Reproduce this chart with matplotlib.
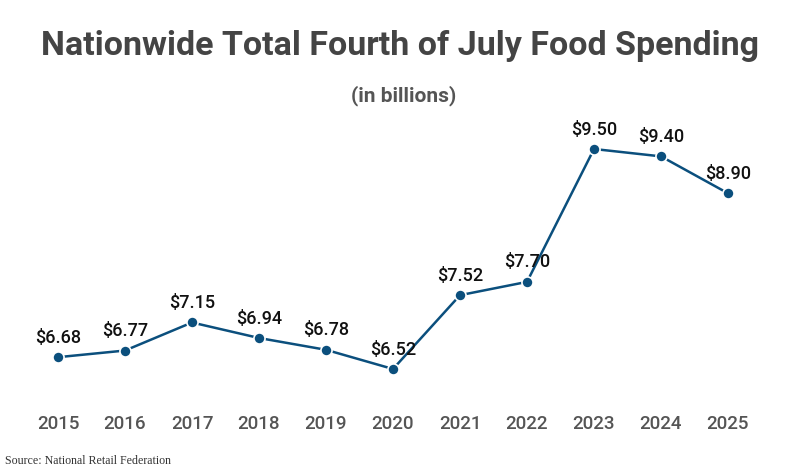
import matplotlib
matplotlib.use("Agg")
import matplotlib.pyplot as plt

years = [2015, 2016, 2017, 2018, 2019, 2020, 2021, 2022, 2023, 2024, 2025]
spending = [6.68, 6.77, 7.15, 6.94, 6.78, 6.52, 7.52, 7.70, 9.50, 9.40, 8.90]
value_labels = ["$6.68", "$6.77", "$7.15", "$6.94", "$6.78", "$6.52",
                "$7.52", "$7.70", "$9.50", "$9.40", "$8.90"]
title = "Nationwide Total Fourth of July Food Spending"
subtitle = "(in billions)"
source = "Source: National Retail Federation"

W, H = 800, 473
fig = plt.figure(figsize=(W / 100, H / 100), dpi=100)
# axes spanning pixel y 120..395
ax = fig.add_axes([0, (H - 395) / H, 1, (395 - 120) / H])
line_color = "#0b4f7d"
ax.plot(years, spending, color=line_color, lw=1.8, marker="o", ms=8,
        mfc=line_color, mec="white", mew=1.2, zorder=3)

ppy = 67.0
ax.set_xlim(2015 - 58 / ppy, 2015 + (800 - 58) / ppy)
ppu = (369 - 149) / (9.50 - 6.52)
ax.set_ylim(6.52 - (395 - 369) / ppu, 9.50 + (149 - 120) / ppu)

for x, y, t in zip(years, spending, value_labels):
    ax.annotate(t, (x, y), xytext=(0, 14), textcoords="offset points",
                ha="center", va="center", fontsize=13, family="Roboto",
                fontweight="medium", color="#111111", zorder=4)

ax.set_xticks(years)
ax.set_xticklabels([str(y) for y in years], fontsize=13.5, family="Roboto",
                   fontweight="medium", color="#555555")
ax.tick_params(axis="x", length=0, pad=14.5)
ax.set_yticks([])
for s in ax.spines.values():
    s.set_visible(False)
ax.patch.set_alpha(0)

fig.text(0.5, 1 - 46 / H, title, ha="center", va="center", fontsize=24.5,
         family="Roboto", fontweight="bold", color="#444444")
fig.text(0.505, 1 - 96 / H, subtitle, ha="center", va="center", fontsize=15,
         family="Roboto", fontweight="bold", color="#555555")
fig.text(5 / W, 1 - 461 / H, source, ha="left", va="center", fontsize=8.6,
         family="Liberation Serif", color="#333333")

fig.savefig("out.png", dpi=100)
